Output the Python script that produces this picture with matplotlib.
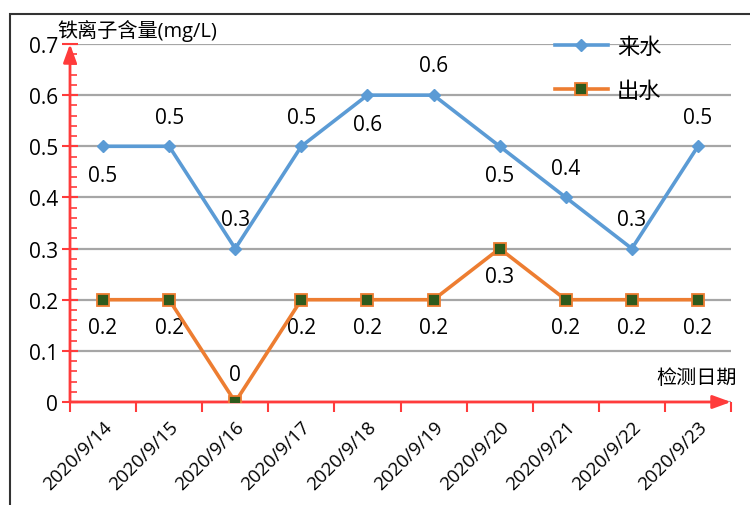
import matplotlib.pyplot as plt
from matplotlib.patches import Rectangle
from matplotlib.ticker import MultipleLocator

plt.rcParams['font.family'] = ['Open Sans', 'Noto Sans CJK SC', 'DejaVu Sans']

# data
dates = ["2020/9/14", "2020/9/15", "2020/9/16", "2020/9/17", "2020/9/18",
         "2020/9/19", "2020/9/20", "2020/9/21", "2020/9/22", "2020/9/23"]
inflow = [0.5, 0.5, 0.3, 0.5, 0.6, 0.6, 0.5, 0.4, 0.3, 0.5]
outflow = [0.2, 0.2, 0, 0.2, 0.2, 0.2, 0.3, 0.2, 0.2, 0.2]
# label placement: +1 above the point, -1 below
inflow_pos = [-1, 1, 1, 1, -1, 1, -1, 1, 1, 1]
outflow_pos = [-1, -1, 1, -1, -1, -1, -1, -1, -1, -1]

blue = "#5B9BD5"
orange = "#ED7D31"
green = "#2E5A1C"
red = "#FF3B3B"

fig = plt.figure(figsize=(7.5, 5.06), dpi=100)
ax = fig.add_axes([70/750, 103/506, 661/750, 358/506])

# outer frame of the chart
fig.patches.append(Rectangle((10/750, -0.05), 1.0, (506 - 15)/506 + 0.05,
                             transform=fig.transFigure, fill=False,
                             edgecolor="#333333", linewidth=1.5))

x = list(range(len(dates)))
ax.plot(x, inflow, color=blue, linewidth=2.6, marker="D", markersize=6.5,
        markerfacecolor=blue, markeredgecolor=blue, label="来水", zorder=3)
ax.plot(x, outflow, color=orange, linewidth=2.6, marker="s", markersize=8.5,
        markerfacecolor=green, markeredgecolor=orange, markeredgewidth=1.3,
        label="出水", zorder=4)

for i in x:
    ax.annotate(f"{inflow[i]:g}", (i, inflow[i]), xytext=(0, 21 * inflow_pos[i]),
                textcoords="offset points", ha="center", va="center", fontsize=15)
    ax.annotate(f"{outflow[i]:g}", (i, outflow[i]), xytext=(0, 20 * outflow_pos[i]),
                textcoords="offset points", ha="center", va="center", fontsize=15)

ax.set_xlim(-0.5, 9.5)
ax.set_ylim(0, 0.7)
ax.yaxis.set_major_locator(MultipleLocator(0.1))
ax.yaxis.set_minor_locator(MultipleLocator(0.02))
ax.set_yticklabels([f"{v:g}" for v in ax.get_yticks()])
ax.grid(axis="y", color="#A6A6A6", linewidth=1.6)
ax.set_axisbelow(True)

ax.set_xticks([i - 0.5 for i in range(len(dates) + 1)], minor=False)
ax.set_xticklabels([""] * (len(dates) + 1))
ax.set_xticks(x, minor=True)
ax.set_xticklabels(dates, minor=True, rotation=45, ha="right",
                   rotation_mode="anchor", fontsize=13.5)
ax.tick_params(axis="x", which="major", direction="out", length=7, width=1.5, color=red)
ax.tick_params(axis="x", which="minor", length=0, pad=11)
ax.tick_params(axis="y", which="major", direction="inout", length=11, width=1.5,
               color=red, labelsize=15, pad=3)
ax.tick_params(axis="y", which="minor", direction="in", length=5, width=1.2, color=red)

for s in ax.spines.values():
    s.set_visible(False)

# arrow axes
ax.annotate("", xy=(0, 1.0), xytext=(0, 0), xycoords="axes fraction",
            arrowprops=dict(arrowstyle="-|>,head_length=1.1,head_width=0.4",
                            color=red, linewidth=2, shrinkA=0, shrinkB=0))
ax.annotate("", xy=(1.0, 0), xytext=(0, 0), xycoords="axes fraction",
            arrowprops=dict(arrowstyle="-|>,head_length=1.1,head_width=0.4",
                            color=red, linewidth=2, shrinkA=0, shrinkB=0))

fig.text(57/750, 1 - 31/506, "铁离子含量(mg/L)", fontsize=14.5, va="center", ha="left")
fig.text(737/750, 1 - 379/506, "检测日期", fontsize=14.5, va="center", ha="right")

ax.legend(loc="upper left", bbox_to_anchor=(0.72, 1.045), frameon=False,
          fontsize=16, handlelength=2.4, labelspacing=1.05, borderaxespad=0,
          handletextpad=0.4)

fig.savefig("out.png", dpi=100)
